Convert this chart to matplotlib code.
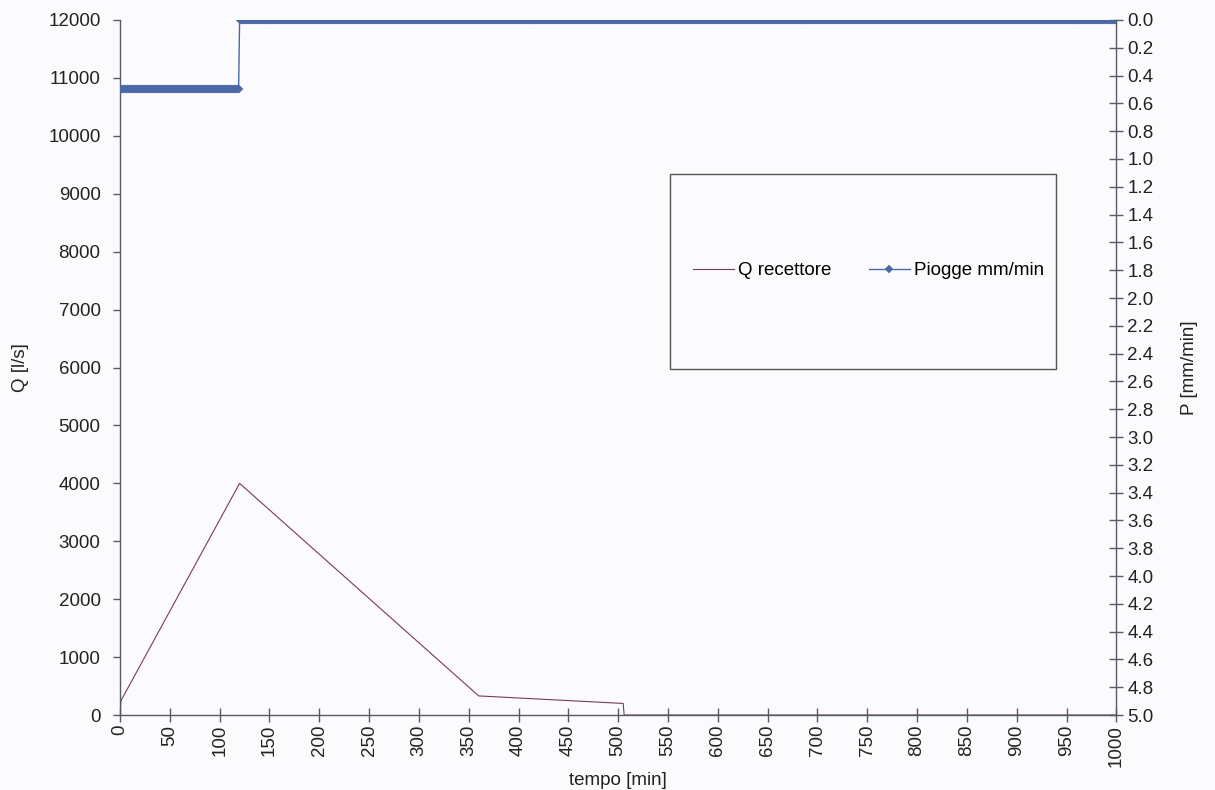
import numpy as np
import matplotlib.pyplot as plt
from matplotlib.patches import Rectangle

plt.rcParams['font.family'] = ['Liberation Sans', 'DejaVu Sans']

# Receiving-body discharge (breakpoints of the hydrograph)
q_time = [0, 1, 120, 360, 505, 506, 1000]
q_flow = [0, 250, 4000, 330, 200, 0, 0]

# Rainfall hyetograph: (start min, end min, intensity mm/min)
rain_blocks = [(0, 120, 0.5), (120, 1001, 0.0)]

x_ticks = list(range(0, 1001, 50))
q_ticks = list(range(0, 12001, 1000))
p_ticks = [round(0.2 * i, 1) for i in range(26)]

# expand the hyetograph to one sample per minute
rain_t, rain_p = [], []
for t0, t1, p in rain_blocks:
    for t in range(t0, t1):
        rain_t.append(t)
        rain_p.append(p)

FS = 13.5
fig = plt.figure(figsize=(12.15, 7.9), dpi=100)
fig.patch.set_facecolor('#fbfbfd')
ax = fig.add_axes([0.0988, 0.0949, 0.8200, 0.8798])
ax.set_facecolor('none')
ax2 = ax.twinx()

line_q, = ax.plot(q_time, q_flow, color='#7a3a5a', lw=0.8, label='Q recettore')
line_p, = ax2.plot(rain_t, rain_p, color='#4a68a8', lw=1.0, marker='D',
                   markersize=4.5, markeredgewidth=0.3, label='Piogge mm/min')

ax.set_xlim(0, 1000)
ax.set_ylim(0, 12000)
ax2.set_ylim(5.0, 0.0)

ax.set_xticks(x_ticks)
ax.set_xticklabels([str(v) for v in x_ticks], rotation=90)
ax.set_yticks(q_ticks)
ax2.set_yticks(p_ticks)
ax2.set_yticklabels([f'{v:.1f}' for v in p_ticks])

axis_col = '#555a66'
for a in (ax, ax2):
    a.spines['top'].set_visible(False)
    for s in a.spines.values():
        s.set_color(axis_col)
        s.set_linewidth(1.0)
ax.spines['right'].set_visible(False)
ax2.spines['left'].set_visible(False)
ax2.spines['bottom'].set_visible(False)

ax.tick_params(axis='x', direction='inout', length=10, width=1, color=axis_col,
               labelsize=FS, labelcolor='#222222', pad=2)
ax.tick_params(axis='y', direction='out', length=5, width=1, color=axis_col,
               labelsize=FS, labelcolor='#222222', pad=9)
ax2.tick_params(axis='y', direction='inout', length=10, width=1, color=axis_col,
                labelsize=FS, labelcolor='#222222', pad=3)

ax.set_xlabel('tempo [min]', fontsize=FS, color='#222222', labelpad=4)
ax.set_ylabel('Q [l/s]', fontsize=FS, color='#222222', labelpad=14)
ax2.set_ylabel('P [mm/min]', fontsize=FS, color='#222222', labelpad=20)

# legend box
ax.add_patch(Rectangle((0.5516, 0.4985), 0.3882, 0.2806, transform=ax.transAxes,
                       facecolor='none', edgecolor='#555555', lw=1.0, zorder=5))
ax.legend([line_q, line_p], ['Q recettore', 'Piogge mm/min'], ncol=2,
          frameon=False, fontsize=FS, loc='center', bbox_to_anchor=(0.751, 0.639),
          handlelength=2.2, handletextpad=0.2, columnspacing=2.0,
          bbox_transform=ax.transAxes)

fig.savefig('out.png', dpi=100, facecolor=fig.get_facecolor())
